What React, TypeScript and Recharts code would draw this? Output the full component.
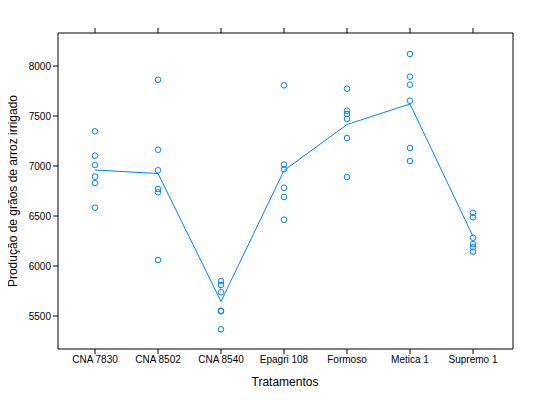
import { ComposedChart, Line, Scatter, XAxis, YAxis } from 'recharts'

const categories = ['CNA 7830', 'CNA 8502', 'CNA 8540', 'Epagri 108', 'Formoso', 'Metica 1', 'Supremo 1']

// six replicates per treatment
const reps = [
  [7347, 7103, 7010, 6893, 6830, 6583],
  [7863, 7163, 6957, 6770, 6737, 6060],
  [5850, 5810, 5737, 5553, 5547, 5367],
  [7807, 7013, 6967, 6783, 6690, 6463],
  [7773, 7553, 7520, 7470, 7280, 6890],
  [8120, 7893, 7813, 7653, 7180, 7050],
  [6533, 6487, 6283, 6220, 6187, 6143],
]

const means = [6960, 6925, 5645, 6955, 7415, 7620, 6295]

const yTicks = [5500, 6000, 6500, 7000, 7500, 8000]

const data = categories.map((cat, i) => {
  const row: Record<string, number | string> = { cat, mean: means[i] }
  reps[i].forEach((v, j) => { row['r' + j] = v })
  return row
})

const blue = '#0080ff'
const font = { fontSize: 10, fill: '#000', fontFamily: 'Liberation Sans, Arial, sans-serif' }
const axisStroke = { stroke: '#000' }
const blank = () => ''

const ring = (props: any) => (
  <circle cx={props.cx} cy={props.cy} r={2.8} fill="none" stroke={blue} strokeWidth={1} />
)

export default function App() {
  return (
    <div style={{ margin: -8, fontFamily: 'Liberation Sans, Arial, sans-serif', position: 'relative' }}>
      <ComposedChart width={540} height={400} data={data} margin={{ top: 28, right: 22, bottom: 21, left: 8 }}>
        <XAxis dataKey="cat" xAxisId="b" tick={font} tickLine={axisStroke} axisLine={axisStroke}
          tickSize={5} height={30} padding={{ left: 37, right: 40 }} interval={0} />
        <XAxis dataKey="cat" xAxisId="t" orientation="top" tick={font} tickFormatter={blank} tickLine={axisStroke}
          axisLine={axisStroke} tickSize={5} height={5} padding={{ left: 37, right: 40 }} interval={0} />
        <YAxis yAxisId="l" domain={[5170, 8330]} ticks={yTicks} tick={font} tickLine={axisStroke}
          axisLine={axisStroke} tickSize={5} width={50} />
        <YAxis yAxisId="r" orientation="right" domain={[5170, 8330]} ticks={yTicks} tick={font} tickFormatter={blank}
          tickLine={axisStroke} axisLine={axisStroke} tickSize={5} width={5} />
        <Line xAxisId="b" yAxisId="l" dataKey="mean" stroke={blue} strokeWidth={1} dot={false}
          type="linear" isAnimationActive={false} />
        {reps[0].map((_, j) => (
          <Scatter key={j} xAxisId="b" yAxisId="l" dataKey={'r' + j} shape={ring} isAnimationActive={false} />
        ))}
      </ComposedChart>
      <div style={{ position: 'absolute', top: 375, left: 0, width: 570, textAlign: 'center', fontSize: 12 }}>
        Tratamentos
      </div>
      <div style={{ position: 'absolute', top: 191, left: 13, width: 0, height: 0 }}>
        <div style={{ position: 'absolute', transform: 'translate(-50%,-50%) rotate(-90deg)', whiteSpace: 'nowrap', fontSize: 12 }}>
          Produção de grãos de arroz irrigado
        </div>
      </div>
    </div>
  )
}
